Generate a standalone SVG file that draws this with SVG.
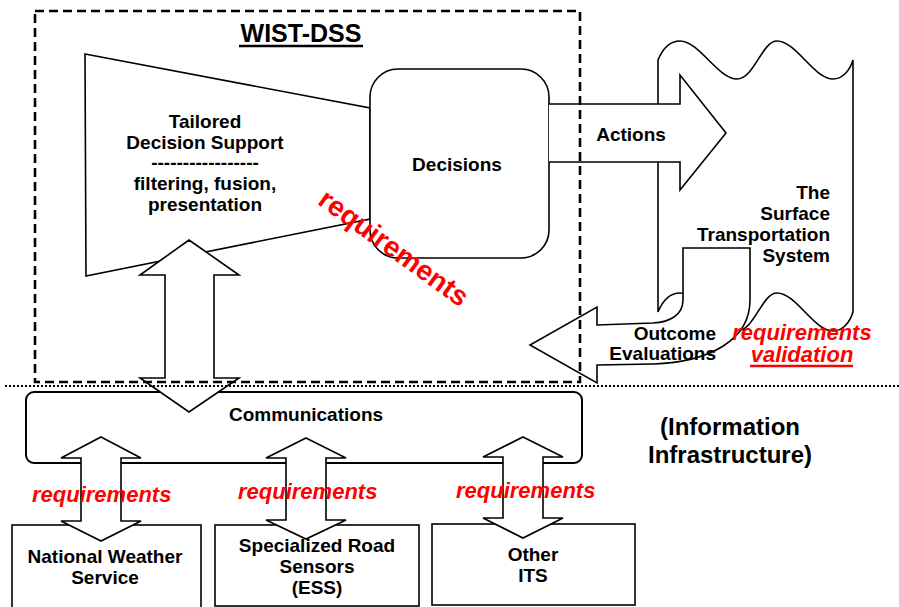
<svg xmlns="http://www.w3.org/2000/svg" width="899" height="607" viewBox="0 0 899 607">
<style>
text{font-family:"Liberation Sans",Arial,sans-serif;font-weight:bold;font-size:19px;fill:#000}
.sh{fill:#fff;stroke:#000;stroke-width:1.6}
.red{fill:#ff0000;font-style:italic;font-size:22px}
.mid{text-anchor:middle}
.end{text-anchor:end}
</style>
<rect width="899" height="607" fill="#fff"/>

<g id="surface-transportation-system">
<path class="sh" d="M658,60 C663,48 670,41 680,41 C699,41 718,79 737,79 C754,79 762,41 777,41 C796,41 814,79 833,79 C843,79 850,70 853,60 L853,312 C850,322 843,331 833,331 C814,331 796,293 777,293 C762,293 754,331 737,331 C718,331 699,293 680,293 C670,293 663,300 658,312 Z"/>
<text class="end" x="830" y="199">The</text>
<text class="end" x="830" y="220">Surface</text>
<text class="end" x="830" y="241">Transportation</text>
<text class="end" x="830" y="262">System</text>
</g>

<g id="tailored-decision-support">
<polygon class="sh" points="85,54 370,108 370,219 86,276"/>
<text class="mid" x="205" y="128">Tailored</text>
<text class="mid" x="205" y="148.5">Decision Support</text>
<text class="mid" x="205" y="169">-----------------</text>
<text class="mid" x="205" y="190">filtering, fusion,</text>
<text class="mid" x="205" y="210.5">presentation</text>
</g>

<g id="decisions">
<rect class="sh" x="370" y="69" width="179" height="189" rx="28"/>
<text class="mid" x="457" y="171">Decisions</text>
</g>

<g id="national-weather-service">
<rect class="sh" x="12" y="525" width="189" height="100"/>
<text class="mid" x="105" y="563">National Weather</text>
<text class="mid" x="105" y="584">Service</text>
</g>

<g id="specialized-road-sensors">
<rect class="sh" x="215" y="525" width="204" height="81"/>
</g>

<g id="other-its">
<rect class="sh" x="432" y="524" width="203" height="81"/>
<text class="mid" x="533" y="561">Other</text>
<text class="mid" x="533" y="582">ITS</text>
</g>

<g id="communications">
<rect class="sh" x="26" y="392" width="556" height="71" rx="8" style="stroke-width:2"/>
<text class="mid" x="306" y="421">Communications</text>
</g>

<g id="connectors">
<path id="actions" class="sh" d="M549,104 L680,104 L680,75 L726,133 L680,190 L680,162 L549,162"/>
<path id="outcome-evaluations" class="sh" d="M683,248 L750,248 L750,300 C750,340 710,362 653,364 L597,365 L597,383 L530,345 L597,307 L597,325 L653,323 C670,322 683,315 683,300 Z"/>
<polygon class="sh" points="189,240 239,275 214,275 214,378 239,378 189,412 140,378 165,378 165,275 140,275"/>
<polygon class="sh" points="101,437 141,458 121,458 121,521 141,521 101,541 61,521 81,521 81,458 61,458"/>
<polygon class="sh" points="306,438 346,458 326,458 326,520 346,520 306,539 266,520 286,520 286,458 266,458"/>
<polygon class="sh" points="523,437 563,457 543,457 543,518 563,518 523,538 483,518 503,518 503,457 483,457"/>
</g>

<g id="labels">
<text x="631" y="141" class="mid">Actions</text>
<text class="end" x="716" y="340">Outcome</text>
<text class="end" x="716" y="360">Evaluations</text>
<text class="mid" x="317" y="552">Specialized Road</text>
<text class="mid" x="317" y="573">Sensors</text>
<text class="mid" x="317" y="594">(ESS)</text>
<text class="red" x="32" y="502">requirements</text>
<text class="red" x="238" y="499">requirements</text>
<text class="red" x="456" y="498">requirements</text>
<text class="red mid" x="802" y="340">requirements</text>
<text class="red mid" x="802" y="362">validation</text>
<line x1="750" y1="366" x2="853" y2="366" stroke="#ff0000" stroke-width="2.5"/>
<text style="fill:#ff0000;font-size:28px" text-anchor="middle" transform="translate(393,249) rotate(36)" x="0" y="8">requirements</text>
<text class="mid" x="730" y="435" style="font-size:24px">(Information</text>
<text class="mid" x="730" y="463" style="font-size:24px">Infrastructure)</text>
</g>

<g id="wist-dss">
<rect x="35" y="11" width="545" height="371" fill="none" stroke="#000" stroke-width="2.6" stroke-dasharray="9 5"/>
<text class="mid" x="301" y="42" style="font-size:25px">WIST-DSS</text>
<line x1="239" y1="46" x2="363" y2="46" stroke="#000" stroke-width="2.5"/>
</g>
<line id="boundary" x1="5" y1="386" x2="899" y2="386" stroke="#000" stroke-width="2" stroke-dasharray="2 2"/>
</svg>
